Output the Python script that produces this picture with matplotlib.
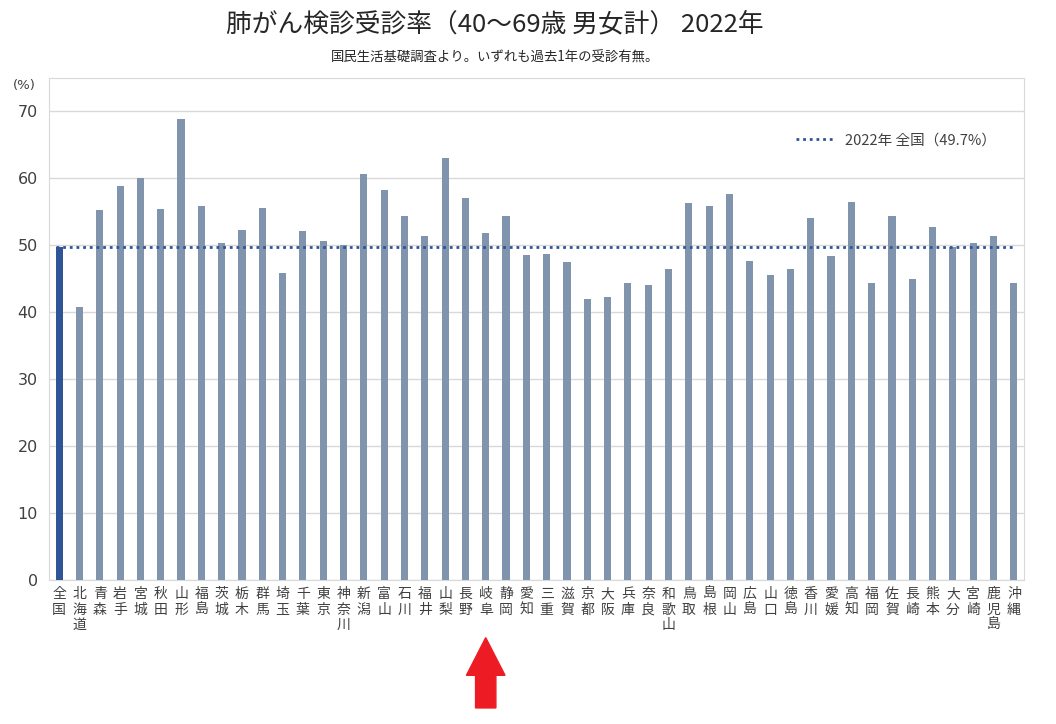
import matplotlib
matplotlib.use('Agg')
import matplotlib.pyplot as plt
import matplotlib.patches as mpatches
from matplotlib.transforms import blended_transform_factory
import numpy as np

plt.rcParams['font.family'] = ['Noto Sans CJK JP', 'DejaVu Sans']

# データ（国民生活基礎調査 2022年, 40～69歳 男女計, %）
prefs = ['全国', '北海道', '青森', '岩手', '宮城', '秋田', '山形', '福島',
         '茨城', '栃木', '群馬', '埼玉', '千葉', '東京', '神奈川', '新潟',
         '富山', '石川', '福井', '山梨', '長野', '岐阜', '静岡', '愛知',
         '三重', '滋賀', '京都', '大阪', '兵庫', '奈良', '和歌山', '鳥取',
         '島根', '岡山', '広島', '山口', '徳島', '香川', '愛媛', '高知',
         '福岡', '佐賀', '長崎', '熊本', '大分', '宮崎', '鹿児島', '沖縄']
rates = [49.7, 40.7, 55.3, 58.9, 60.0, 55.4, 68.9, 55.8,
         50.3, 52.3, 55.5, 45.9, 52.2, 50.6, 50.0, 60.6,
         58.2, 54.4, 51.4, 63.0, 57.1, 51.9, 54.4, 48.5,
         48.7, 47.5, 42.0, 42.3, 44.3, 44.0, 46.5, 56.3,
         55.8, 57.7, 47.6, 45.5, 46.4, 54.0, 48.4, 56.5,
         44.3, 54.4, 44.9, 52.8, 49.8, 50.4, 51.4, 44.4]
national = 49.7
highlight = '岐阜'
yticks = [0, 10, 20, 30, 40, 50, 60, 70]

C_BAR = '#8094AE'
C_NAT = '#2F5597'
C_TXT = '#404040'

fig = plt.figure(figsize=(10.56, 7.24), dpi=100)
ax = fig.add_axes([0.0464, 0.199, 0.9233, 0.6934])

x = np.arange(len(prefs))
colors = [C_NAT if p == '全国' else C_BAR for p in prefs]
bw = 0.35
ax.bar(x, rates, width=bw, color=colors, zorder=3)

# 全国平均の点線
ax.plot([x[0] - bw / 2, x[-1]], [national, national], color=C_NAT,
        lw=2.0, ls=(0, (1, 1.4)), zorder=4,
        label=f'2022年 全国（{national}%）')

ax.set_xlim(-0.5, len(prefs) - 0.5)
ax.set_ylim(0, 75)
ax.set_yticks(yticks)
ax.set_yticklabels([str(v) for v in yticks], fontsize=11.5, color=C_TXT,
                   family=['DejaVu Sans'])
ax.set_xticks(x)
ax.set_xticklabels(['\n'.join(p) for p in prefs], fontsize=10,
                   color=C_TXT, linespacing=1.15, va='top')
ax.tick_params(axis='both', length=0)
ax.tick_params(axis='x', pad=5)
ax.tick_params(axis='y', pad=8)
ax.grid(axis='y', color='#D9D9D9', lw=1, zorder=0)
for s in ax.spines.values():
    s.set_color('#D9D9D9')

ax.text(-0.025, 0.984, '(%)', transform=ax.transAxes, fontsize=9.5,
        color=C_TXT, ha='center', va='center', family=['DejaVu Sans'])

ax.legend(loc='center right', bbox_to_anchor=(0.985, 0.876),
          frameon=False, fontsize=10.5, handlelength=2.6,
          labelcolor=C_TXT)

fig.text(0.469, 0.966, '肺がん検診受診率（40～69歳 男女計） 2022年',
         ha='center', va='center', fontsize=18.5, color='#262626')
fig.text(0.469, 0.92, '国民生活基礎調査より。いずれも過去1年の受診有無。',
         ha='center', va='center', fontsize=9.6, color='#262626')

# 岐阜を指す赤矢印
gi = prefs.index(highlight)
tr = blended_transform_factory(ax.transData, ax.transAxes)
arrow = mpatches.FancyArrow(gi, -0.255, 0, 0.14, width=1.0,
                            head_width=1.9, head_length=0.075,
                            length_includes_head=True, color='#ED1C24',
                            transform=tr, clip_on=False)
ax.add_patch(arrow)

plt.savefig('out.png', dpi=100)
